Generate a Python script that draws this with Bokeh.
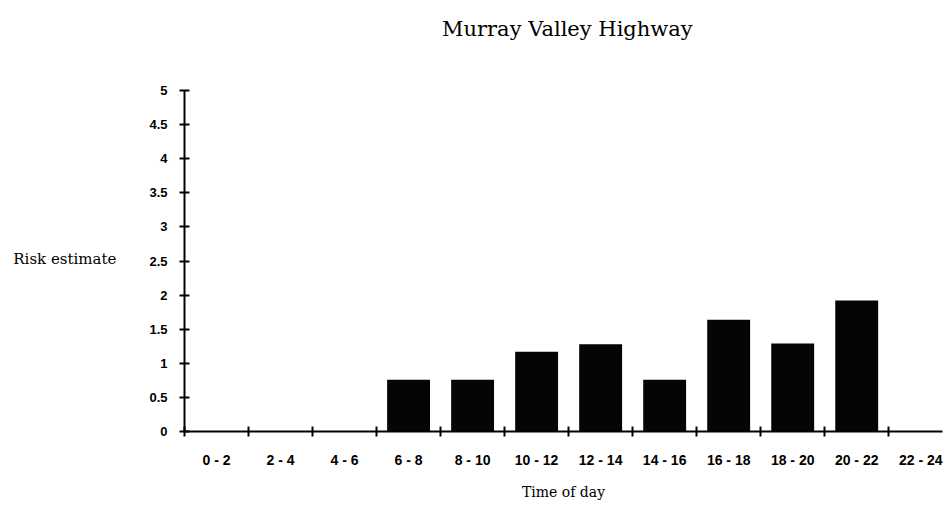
from bokeh.plotting import figure
from bokeh.models import FixedTicker, Range1d, ColumnDataSource, Label
from bokeh.embed import file_html
from bokeh.resources import INLINE

title_text = "Murray Valley Highway"
y_label = "Risk estimate"
x_label = "Time of day"

categories = ["0 - 2", "2 - 4", "4 - 6", "6 - 8", "8 - 10", "10 - 12",
              "12 - 14", "14 - 16", "16 - 18", "18 - 20", "20 - 22", "22 - 24"]
risk = [0, 0, 0, 0.76, 0.76, 1.17, 1.28, 0.76, 1.64, 1.29, 1.92, 0]

y_ticks = [0, 0.5, 1, 1.5, 2, 2.5, 3, 3.5, 4, 4.5, 5]
y_tick_labels = ["0", "0.5", "1", "1.5", "2", "2.5", "3", "3.5", "4", "4.5", "5"]

n = len(categories)
centers = [i + 0.5 for i in range(n)]
bounds = [float(i) for i in range(n + 1)]

src = ColumnDataSource(dict(x=centers, top=risk, cat=categories))

# frame reaches the top of the canvas; the axis itself stops at 5
p = figure(width=946, height=506, output_backend="svg", toolbar_location=None,
           x_range=Range1d(0, 11.84), y_range=Range1d(0, 6.32),
           min_border_left=184, min_border_right=4, min_border_top=0,
           min_border_bottom=75)
p.outline_line_color = None
p.xgrid.visible = False
p.ygrid.visible = False
p.background_fill_color = "white"
p.border_fill_color = "white"

p.vbar(x="x", top="top", bottom=0, width=0.67, source=src,
       fill_color="#050505", line_color=None)

# x axis: boundary tick marks (as minor ticks), labels centred in each interval
xa = p.xaxis[0]
xa.ticker = FixedTicker(ticks=centers, minor_ticks=bounds)
xa.major_label_overrides = {c: lab for c, lab in zip(centers, categories)}
xa.major_tick_in = 0
xa.major_tick_out = 0
xa.minor_tick_in = 5
xa.minor_tick_out = 5
xa.minor_tick_line_width = 2
xa.minor_tick_line_color = "black"
xa.axis_line_width = 2
xa.axis_line_color = "black"
xa.major_label_standoff = 15
xa.major_label_text_font = "Liberation Sans"
xa.major_label_text_font_style = "bold"
xa.major_label_text_font_size = "14px"
xa.major_label_text_color = "black"
xa.axis_label = x_label
xa.axis_label_standoff = 13
xa.axis_label_text_font = "DejaVu Serif"
xa.axis_label_text_font_style = "normal"
xa.axis_label_text_font_size = "14px"
xa.axis_label_text_color = "black"

ya = p.yaxis[0]
ya.bounds = (y_ticks[0], y_ticks[-1])
ya.ticker = FixedTicker(ticks=y_ticks, minor_ticks=[])
ya.major_label_overrides = {t: lab for t, lab in zip(y_ticks, y_tick_labels)}
ya.major_tick_in = 5
ya.major_tick_out = 5
ya.major_tick_line_width = 2
ya.major_tick_line_color = "black"
ya.minor_tick_line_color = None
ya.axis_line_width = 2
ya.axis_line_color = "black"
ya.major_label_standoff = 12
ya.major_label_text_font = "Liberation Sans"
ya.major_label_text_font_style = "bold"
ya.major_label_text_font_size = "13px"
ya.major_label_text_color = "black"
# the label is centred on the frame; leading empty lines move it down
# to the middle of the visible 0-5 axis
ya.axis_label = "\n" * 4 + y_label
ya.axis_label_orientation = "horizontal"
ya.axis_label_standoff = 30
ya.axis_label_text_font = "DejaVu Serif"
ya.axis_label_text_font_style = "normal"
ya.axis_label_text_font_size = "15px"
ya.axis_label_text_color = "black"

p.add_layout(Label(x=5.98, y=5.9, text=title_text, text_align="center",
                   text_baseline="middle", text_font="DejaVu Serif",
                   text_font_size="21px", text_color="black"))

open("out.html", "w").write(file_html(p, INLINE))
